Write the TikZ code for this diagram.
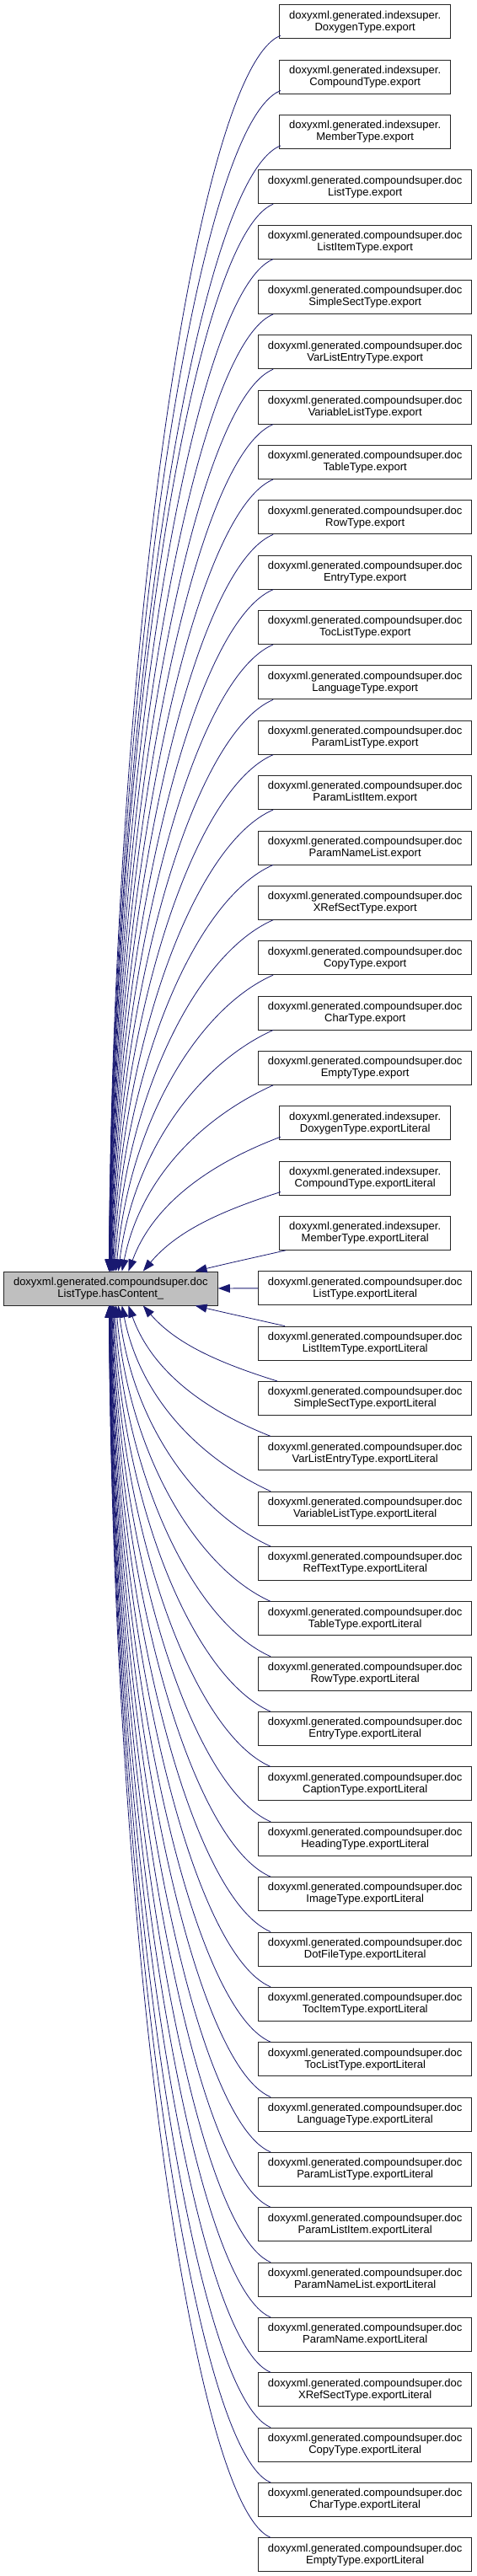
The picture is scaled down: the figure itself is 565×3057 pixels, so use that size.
\documentclass[tikz,border=0pt]{standalone}
\usepackage{fontspec}
\setmainfont{Liberation Sans}
\usetikzlibrary{arrows.meta,calc}
\definecolor{edgecol}{HTML}{191970}
\definecolor{mainfill}{HTML}{BFBFBF}
\newcommand\firsti{doxyxml.generated.indexsuper.}
\newcommand\firstc{doxyxml.generated.compoundsuper.doc}
\tikzset{
  boxbase/.style={draw=black!85, line width=0.9pt, fill=white, align=center, inner sep=0pt,
    minimum height=40pt, font=\fontsize{13}{14}\selectfont, text=black},
  boxi/.style={boxbase, minimum width=202.6pt},
  boxc/.style={boxbase, minimum width=253.3pt},
  mainbox/.style={boxbase, fill=mainfill, minimum width=254pt},
  linkarrow/.style={draw=edgecol, line width=0.8pt, -{Triangle[length=14pt,width=10pt]}}
}
\begin{document}
\begin{tikzpicture}[x=1pt,y=1pt]
\useasboundingbox (0,0) rectangle (565,-3057);
\node[mainbox] (main) at (131.3,-1529) {doxyxml.generated.compoundsuper.doc\\ListType.hasContent\_};
\foreach \i/\k/\t in {
 1/i/DoxygenType.export, 2/i/CompoundType.export, 3/i/MemberType.export,
 4/c/ListType.export, 5/c/ListItemType.export, 6/c/SimpleSectType.export,
 7/c/VarListEntryType.export, 8/c/VariableListType.export, 9/c/TableType.export,
 10/c/RowType.export, 11/c/EntryType.export, 12/c/TocListType.export,
 13/c/LanguageType.export, 14/c/ParamListType.export, 15/c/ParamListItem.export,
 16/c/ParamNameList.export, 17/c/XRefSectType.export, 18/c/CopyType.export,
 19/c/CharType.export, 20/c/EmptyType.export,
 21/i/DoxygenType.exportLiteral, 22/i/CompoundType.exportLiteral, 23/i/MemberType.exportLiteral,
 24/c/ListType.exportLiteral, 25/c/ListItemType.exportLiteral, 26/c/SimpleSectType.exportLiteral,
 27/c/VarListEntryType.exportLiteral, 28/c/VariableListType.exportLiteral, 29/c/RefTextType.exportLiteral,
 30/c/TableType.exportLiteral, 31/c/RowType.exportLiteral, 32/c/EntryType.exportLiteral,
 33/c/CaptionType.exportLiteral, 34/c/HeadingType.exportLiteral, 35/c/ImageType.exportLiteral,
 36/c/DotFileType.exportLiteral, 37/c/TocItemType.exportLiteral, 38/c/TocListType.exportLiteral,
 39/c/LanguageType.exportLiteral, 40/c/ParamListType.exportLiteral, 41/c/ParamListItem.exportLiteral,
 42/c/ParamNameList.exportLiteral, 43/c/ParamName.exportLiteral, 44/c/XRefSectType.exportLiteral,
 45/c/CopyType.exportLiteral, 46/c/CharType.exportLiteral, 47/c/EmptyType.exportLiteral}{
  \pgfmathsetmacro\yc{25.7+(\i-1)*65.35}
  \node[box\k] (n\i) at (433.2,-\yc) {\csname first\k\endcsname\\\t};
  \ifnum\i<24
    \pgfmathsetmacro\d{24-\i}
    \pgfmathsetmacro\xe{128+104/(\d^1.3)}
    \if\k i
      \ifnum\i=23 \def\ox{7.3}\def\oy{0}\else\def\ox{1.5}\def\oy{4}\fi
      \def\lx{331.7}
    \else
      \def\ox{18}\def\oy{0}\def\lx{306.7}
    \fi
    \pgfmathsetmacro\xs{\lx+\ox}
    \pgfmathsetmacro\ys{\yc+20-\oy}
    \pgfmathsetmacro\dy{1509-\ys}
    \pgfmathsetmacro\cax{\xs-(0.5-0.1/\d)*(\xs-\xe)}
    \pgfmathsetmacro\cay{\ys+min(40,0.1*\dy+0.3*\dy/\d)}
    \pgfmathsetmacro\cbx{\xe+0.48*(\xs-\xe)/\d}
    \pgfmathsetmacro\cby{1509-0.5*\dy}
    \draw[linkarrow] ($(n\i.south west)+(\ox,\oy)$) .. controls (\cax,-\cay) and (\cbx,-\cby) .. ($(main.north west)+(\xe-4.3,0)$);
  \fi
  \ifnum\i>24
    \pgfmathsetmacro\d{\i-24}
    \pgfmathsetmacro\xe{128+104/(\d^1.3)}
    \ifnum\i=25 \def\ox{32}\else\ifnum\i=26 \def\ox{23}\else\def\ox{15}\fi\fi
    \pgfmathsetmacro\xs{306.7+\ox}
    \pgfmathsetmacro\ys{\yc-20}
    \pgfmathsetmacro\dy{\ys-1549}
    \pgfmathsetmacro\cax{\xs-(0.5-0.1/\d)*(\xs-\xe)}
    \pgfmathsetmacro\cay{\ys-min(40,0.1*\dy+0.3*\dy/\d)}
    \pgfmathsetmacro\cbx{\xe+0.48*(\xs-\xe)/\d}
    \pgfmathsetmacro\cby{1549+0.5*\dy}
    \draw[linkarrow] ($(n\i.north west)+(\ox,0)$) .. controls (\cax,-\cay) and (\cbx,-\cby) .. ($(main.south west)+(\xe-4.3,0)$);
  \fi
  \ifnum\i=24 \draw[linkarrow] (n24) -- (main); \fi
}
\end{tikzpicture}
\end{document}
